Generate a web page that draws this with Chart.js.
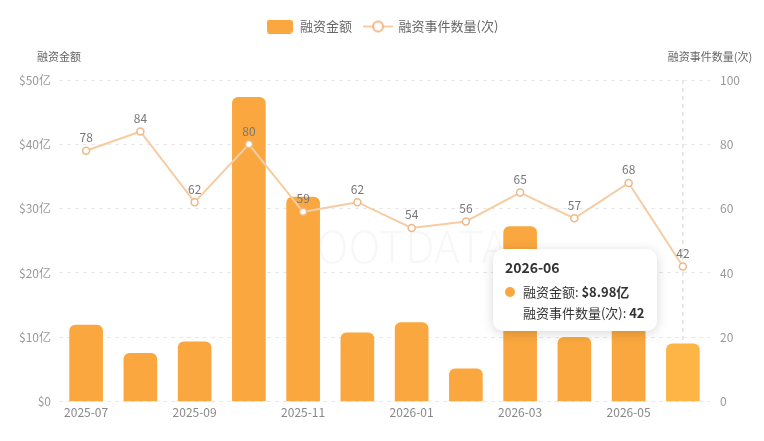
<!DOCTYPE html>
<html>
<head>
<meta charset="utf-8">
<script src="https://cdn.jsdelivr.net/npm/chart.js@4.4.1/dist/chart.umd.min.js"></script>
<style>
  html, body { margin: 0; padding: 0; background: #fff; }
  #wrap { position: relative; width: 764px; height: 441px; }
  #tip {
    position: absolute; background: #fff; border-radius: 10px;
    box-shadow: 0 2px 12px rgba(0,0,0,0.16);
    padding: 8px 12px 8px 12px; pointer-events: none; opacity: 0;
    font-family: "Noto Sans CJK SC", "Noto Sans", sans-serif; color: #333;
    white-space: nowrap;
  }
  #tip .tt { font-weight: bold; font-size: 14px; margin-bottom: 4px; }
  #tip .row { font-size: 13px; line-height: 21px; padding-left: 18px; position: relative; }
  #tip .dot { position: absolute; left: 0; top: 6px; width: 10px; height: 10px; border-radius: 50%; }
  #tip b { font-weight: bold; }
</style>
</head>
<body>
<div id="wrap">
  <canvas id="chart" width="764" height="441"></canvas>
  <div id="tip"></div>
</div>
<script>
const months = ['2025-07', '2025-08', '2025-09', '2025-10', '2025-11', '2025-12',
                '2026-01', '2026-02', '2026-03', '2026-04', '2026-05', '2026-06'];
const amounts = [11.9, 7.5, 9.3, 47.3, 31.8, 10.7, 12.3, 5.1, 27.2, 10.0, 13.5, 8.98];
const counts = [78, 84, 62, 80, 59, 62, 54, 56, 65, 57, 68, 42];

const FONT = '"Noto Sans CJK SC", "Noto Sans", sans-serif';
const barColor = '#F9A73E';
const lineColor = '#F6CDA2';
const activeIndex = 11;

// legend icons
function barIcon() {
    const c = document.createElement('canvas');
    c.width = 26; c.height = 14;
    const g = c.getContext('2d');
    g.fillStyle = barColor;
    g.beginPath();
    g.roundRect(0, 0, 26, 14, 3);
    g.fill();
    return c;
}
function lineIcon() {
    const c = document.createElement('canvas');
    c.width = 30; c.height = 14;
    const g = c.getContext('2d');
    g.strokeStyle = lineColor;
    g.lineWidth = 2;
    g.beginPath(); g.moveTo(0, 7); g.lineTo(30, 7); g.stroke();
    g.fillStyle = '#fff';
    g.strokeStyle = '#EFB888';
    g.beginPath(); g.arc(15, 7, 5, 0, Math.PI * 2); g.fill(); g.stroke();
    return c;
}

// extra room under the legend for the axis titles
const legendGap = {
    id: 'legendGap',
    beforeLayout(chart) {
        if (chart.legend && !chart.legend._gapDone) {
            const fit = chart.legend.fit;
            chart.legend.fit = function () {
                fit.call(this);
                this.height += 37;
            };
            chart.legend._gapDone = true;
        }
    }
};

const extrasPlugin = {
    id: 'extras',
    beforeDatasetsDraw(chart) {
        const {ctx, chartArea} = chart;
        ctx.save();
        ctx.font = '300 44px ' + FONT;
        ctx.fillStyle = 'rgba(0,0,0,0.03)';
        ctx.textAlign = 'center';
        ctx.textBaseline = 'middle';
        ctx.fillText('ROOTDATA', (chartArea.left + chartArea.right) / 2 + 14, (chartArea.top + chartArea.bottom) / 2 + 5);
        // hover line
        const act = chart.tooltip.getActiveElements();
        if (act.length) {
            const x = act[0].element.x;
            ctx.strokeStyle = '#d6d6d6';
            ctx.setLineDash([4, 4]);
            ctx.lineWidth = 1;
            ctx.beginPath();
            ctx.moveTo(x, chartArea.top);
            ctx.lineTo(x, chartArea.bottom);
            ctx.stroke();
        }
        ctx.restore();
    },
    afterDatasetsDraw(chart) {
        const {ctx} = chart;
        const meta = chart.getDatasetMeta(1);
        ctx.save();
        ctx.font = '12px ' + FONT;
        ctx.fillStyle = '#777';
        ctx.textAlign = 'center';
        ctx.textBaseline = 'bottom';
        meta.data.forEach((pt, i) => {
            ctx.fillText(String(counts[i]), pt.x, pt.y - 7);
        });
        // axis titles
        ctx.font = '11px ' + FONT;
        ctx.fillStyle = '#666';
        ctx.textBaseline = 'middle';
        ctx.fillText('融资金额', 59, 57);
        ctx.fillText('融资事件数量(次)', 710, 57);
        ctx.restore();
    }
};

function externalTooltip(context) {
    const {chart, tooltip} = context;
    const el = document.getElementById('tip');
    if (tooltip.opacity === 0) { el.style.opacity = 0; return; }
    const pts = tooltip.dataPoints;
    let html = '<div class="tt">' + pts[0].label + '</div>';
    pts.forEach(p => {
        if (p.datasetIndex === 0) {
            html += '<div class="row"><span class="dot" style="background:' + barColor + '"></span>融资金额: <b>$' + p.raw + '亿</b></div>';
        } else {
            html += '<div class="row">融资事件数量(次): <b>' + p.raw + '</b></div>';
        }
    });
    el.innerHTML = html;
    el.style.opacity = 1;
    el.style.left = (tooltip.caretX - el.offsetWidth - 26) + 'px';
    el.style.top = (tooltip.caretY - el.offsetHeight / 2 - 15) + 'px';
}

const ctx = document.getElementById('chart').getContext('2d');
const myChart = new Chart(ctx, {
    type: 'bar',
    data: {
        labels: months,
        datasets: [{
            type: 'bar',
            label: '融资金额',
            data: amounts,
            yAxisID: 'y',
            backgroundColor: barColor,
            hoverBackgroundColor: '#FDB645',
            borderRadius: 6,
            borderSkipped: 'start',
            barThickness: 33,
            order: 2
        }, {
            type: 'line',
            label: '融资事件数量(次)',
            data: counts,
            yAxisID: 'y1',
            borderColor: lineColor,
            borderWidth: 2,
            pointRadius: 3.5,
            pointHoverRadius: 3.5,
            pointBackgroundColor: '#fff',
            pointHoverBackgroundColor: '#fff',
            pointBorderColor: '#EFB888',
            pointHoverBorderColor: '#EFB888',
            pointBorderWidth: 1.5,
            pointHoverBorderWidth: 1.5,
            tension: 0,
            order: 1
        }]
    },
    options: {
        responsive: false,
        animation: false,
        layout: { padding: { top: 8, bottom: 17 } },
        interaction: { mode: 'index', intersect: false },
        plugins: {
            legend: {
                position: 'top',
                labels: {
                    usePointStyle: true,
                    pointStyleWidth: 28,
                    padding: 12,
                    color: '#666',
                    font: { family: FONT, size: 13 },
                    generateLabels: () => [
                        { text: '融资金额', pointStyle: barIcon(), datasetIndex: 0, fontColor: '#666', lineWidth: 0 },
                        { text: '融资事件数量(次)', pointStyle: lineIcon(), datasetIndex: 1, fontColor: '#666', lineWidth: 0 }
                    ]
                }
            },
            tooltip: { enabled: false, external: externalTooltip }
        },
        scales: {
            x: {
                offset: true,
                grid: { display: false, drawTicks: false },
                border: { display: false },
                ticks: {
                    autoSkip: false,
                    maxRotation: 0,
                    color: '#888',
                    font: { family: FONT, size: 12 },
                    padding: 4,
                    callback: (v, i) => i % 2 === 0 ? months[i] : ''
                }
            },
            y: {
                position: 'left',
                min: 0, max: 50,
                ticks: {
                    stepSize: 10,
                    color: '#999',
                    padding: 8,
                    font: { family: FONT, size: 12 },
                    callback: v => v === 0 ? '$0' : '$' + v + '亿'
                },
                grid: { color: '#e9e9e9', drawTicks: false },
                border: { display: false, dash: [4, 4] },
                afterFit: s => { s.width = 59; }
            },
            y1: {
                position: 'right',
                min: 0, max: 100,
                ticks: {
                    stepSize: 20,
                    color: '#999',
                    padding: 10,
                    font: { family: FONT, size: 12 }
                },
                grid: { drawOnChartArea: false, drawTicks: false },
                border: { display: false },
                afterFit: s => { s.width = 54; }
            }
        }
    },
    plugins: [legendGap, extrasPlugin]
});

const act = [{ datasetIndex: 0, index: activeIndex }, { datasetIndex: 1, index: activeIndex }];
myChart.setActiveElements(act);
myChart.tooltip.setActiveElements(act, { x: 683, y: 300 });
myChart.update();
</script>
</body>
</html>
